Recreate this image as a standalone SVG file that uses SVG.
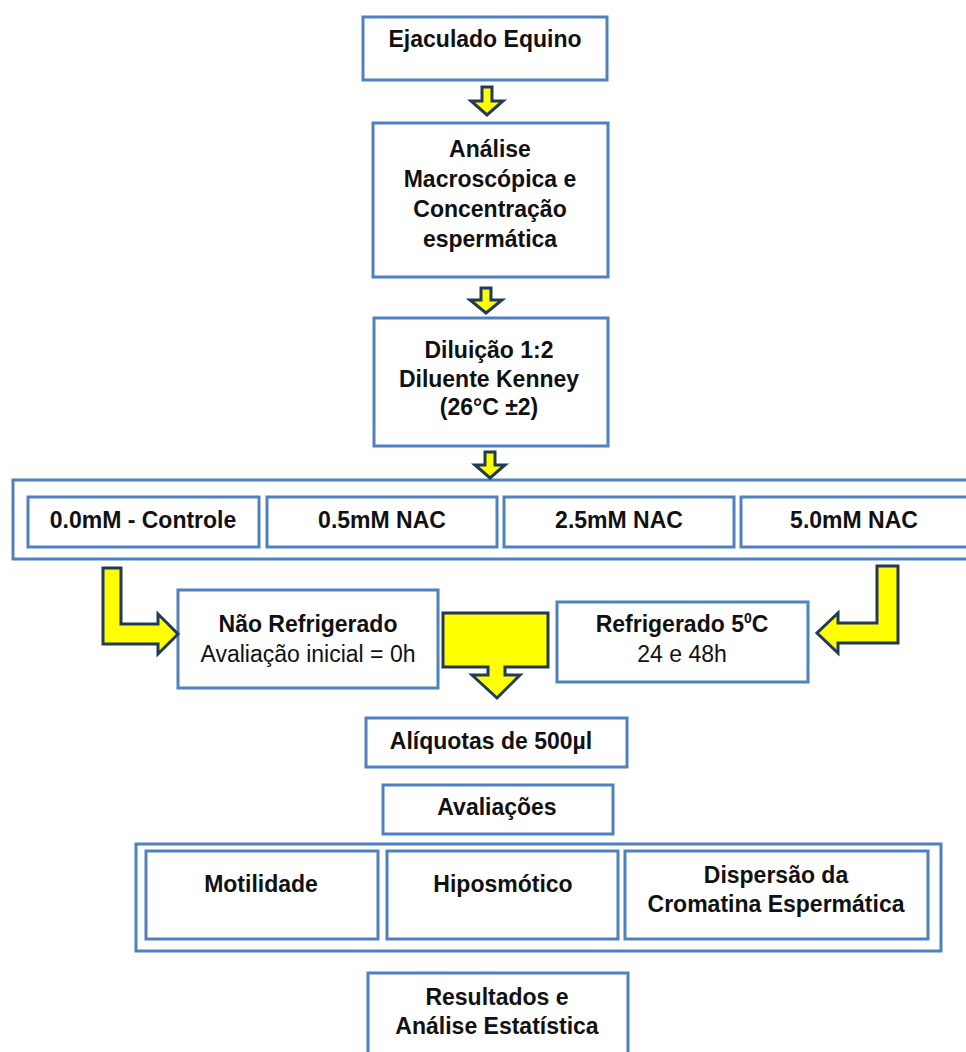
<svg xmlns="http://www.w3.org/2000/svg" width="966" height="1052" viewBox="0 0 966 1052">
<style>
.box{fill:#fff;stroke:#4F81BD;stroke-width:3}
.grp{fill:#fff;stroke:#4F81BD;stroke-width:3}
.arr{fill:#FFFF00;stroke:#22395A;stroke-width:3;stroke-linejoin:miter}
text{font-family:"Liberation Sans",Arial,sans-serif;font-size:23px;fill:#111;text-anchor:middle}
.b{font-weight:bold}
</style>
<rect x="0" y="0" width="966" height="1052" fill="#fff"/>

<g id="ejaculado">
<rect class="box" x="363" y="17" width="244" height="63"/>
<text class="b" x="485" y="47">Ejaculado Equino</text>
</g>

<g id="analise">
<rect class="box" x="373" y="123" width="235" height="154"/>
<text class="b" x="490" y="157">Análise</text>
<text class="b" x="490" y="187">Macroscópica e</text>
<text class="b" x="490" y="217">Concentração</text>
<text class="b" x="490" y="247">espermática</text>
</g>

<g id="diluicao">
<rect class="box" x="374" y="318" width="234" height="128"/>
<text class="b" x="489" y="358">Diluição 1:2</text>
<text class="b" x="489" y="387">Diluente Kenney</text>
<text class="b" x="489" y="415">(26°C ±2)</text>
</g>

<g id="tratamentos">
<rect class="grp" x="13" y="480" width="970" height="79"/>
<g id="controle">
<rect class="box" x="28" y="497" width="231" height="50"/>
<text class="b" x="143" y="528">0.0mM - Controle</text>
</g>
<g id="nac05">
<rect class="box" x="267" y="497" width="230" height="50"/>
<text class="b" x="382" y="528">0.5mM NAC</text>
</g>
<g id="nac25">
<rect class="box" x="504" y="497" width="230" height="50"/>
<text class="b" x="619" y="528">2.5mM NAC</text>
</g>
<g id="nac50">
<rect class="box" x="741" y="497" width="231" height="50"/>
<text class="b" x="854" y="528">5.0mM NAC</text>
</g>
</g>

<g id="nao-refrigerado">
<rect class="box" x="178" y="590" width="260" height="98"/>
<text class="b" x="308" y="632">Não Refrigerado</text>
<text x="308" y="662">Avaliação inicial = 0h</text>
</g>

<g id="refrigerado">
<rect class="box" x="557" y="602" width="251" height="80"/>
<text class="b" x="682" y="632">Refrigerado 5<tspan font-size="14" dy="-9">0</tspan><tspan dy="9">C</tspan></text>
<text x="682" y="662">24 e 48h</text>
</g>

<g id="aliquotas">
<rect class="box" x="366" y="718" width="261" height="49"/>
<text class="b" x="491" y="749">Alíquotas de 500µl</text>
</g>

<g id="avaliacoes">
<rect class="box" x="383" y="785" width="230" height="49"/>
<text class="b" x="497" y="815">Avaliações</text>
</g>

<g id="testes">
<rect class="grp" x="136" y="844" width="805" height="107"/>
<g id="motilidade">
<rect class="box" x="146" y="851" width="232" height="88"/>
<text class="b" x="261" y="892">Motilidade</text>
</g>
<g id="hiposmotico">
<rect class="box" x="387" y="851" width="231" height="88"/>
<text class="b" x="503" y="892">Hiposmótico</text>
</g>
<g id="dispersao">
<rect class="box" x="625" y="851" width="303" height="88"/>
<text class="b" x="776" y="883">Dispersão da</text>
<text class="b" x="776" y="912">Cromatina Espermática</text>
</g>
</g>

<g id="resultados">
<rect class="box" x="368" y="973" width="260" height="100"/>
<text class="b" x="497" y="1005">Resultados e</text>
<text class="b" x="497" y="1034">Análise Estatística</text>
</g>

<g id="connectors">
<path class="arr" d="M482,87 H492 V101 H503 L487,115 L471,101 H482 Z"/>
<path class="arr" d="M481,288 H491 V300 H502 L486,313 L470,300 H481 Z"/>
<path class="arr" d="M485,452 H495 V465 H505 L490,478 L475,465 H485 Z"/>
<path class="arr" d="M103,568 H121 V624 H158 V614 L178,634 L158,654 V644 H103 Z"/>
<path class="arr" d="M898,566 H877 V623 H838 V613 L817,633 L838,653 V643 H898 Z"/>
<path class="arr" d="M443,613 H548 V667 H505 V675 H520 L497,698 L472,675 H488 V667 H443 Z"/>
</g>
</svg>
